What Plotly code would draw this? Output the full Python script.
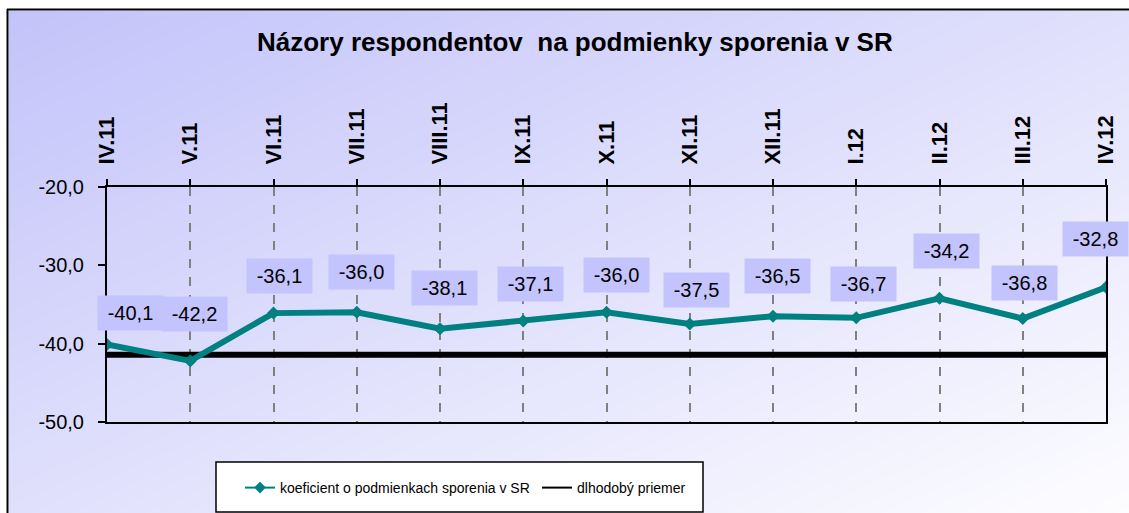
import plotly.graph_objects as go

# ---- data ----
categories = ["IV.11", "V.11", "VI.11", "VII.11", "VIII.11", "IX.11", "X.11",
              "XI.11", "XII.11", "I.12", "II.12", "III.12", "IV.12"]
koeficient = [-40.1, -42.2, -36.1, -36.0, -38.1, -37.1, -36.0,
              -37.5, -36.5, -36.7, -34.2, -36.8, -32.8]
dlhodoby_priemer = -41.4
y_tickvals = [-20, -30, -40, -50]
y_ticktext = ["-20,0", "-30,0", "-40,0", "-50,0"]
series_names = ["koeficient o podmienkach sporenia v SR", "dlhodobý priemer"]
title_text = "Názory respondentov\u00a0\u00a0na podmienky sporenia v SR"

# ---- style: label offsets (px) relative to each point ----
label_dx = [23, 4, 6, 5, 4, 7, 10, 7, 4, 7, 7, 2, -11]
label_dy = [31, 47, 37, 40, 41, 37, 37, 34, 40, 34, 47, 36, 48]

W, H = 1129, 513
FONT = "Liberation Sans, Arial, sans-serif"
TEAL = "#008080"

def px(x):
    return x / W

def py(y):
    return 1 - y / H

fig = go.Figure()

# background gradient (drawn on base subplot)
fig.add_trace(go.Heatmap(
    x=[0, 1], y=[0, 1], z=[[0.5, 1.0], [0.0, 0.5]],
    zsmooth="best", showscale=False, hoverinfo="skip",
    colorscale=[[0, "rgb(195,195,250)"], [1, "rgb(253,253,255)"]],
    xaxis="x", yaxis="y", showlegend=False,
))

avg_vals = [dlhodoby_priemer] * len(categories)
fig.add_trace(go.Scatter(
    x=categories, y=avg_vals, mode="lines", name=series_names[1],
    line=dict(color="black", width=6), xaxis="x2", yaxis="y2",
    showlegend=False, hoverinfo="skip",
))
fig.add_trace(go.Scatter(
    x=categories, y=koeficient, mode="lines+markers", name=series_names[0],
    line=dict(color=TEAL, width=6),
    marker=dict(symbol="diamond", size=10, color=TEAL),
    xaxis="x2", yaxis="y2", showlegend=False,
))
# legend-only entries (thin symbols like the original legend)
fig.add_trace(go.Scatter(
    x=[None], y=[None], mode="lines+markers", name=series_names[0],
    line=dict(color=TEAL, width=2),
    marker=dict(symbol="diamond", size=9, color=TEAL),
    xaxis="x2", yaxis="y2", legendrank=1,
))
fig.add_trace(go.Scatter(
    x=[None], y=[None], mode="lines", name=series_names[1],
    line=dict(color="black", width=2), xaxis="x2", yaxis="y2", legendrank=2,
))

annotations = []
for i, (c, v) in enumerate(zip(categories, koeficient)):
    annotations.append(dict(
        x=c, y=v, xref="x2", yref="y2",
        text=f"{v:.1f}".replace(".", ","),
        showarrow=False, xshift=label_dx[i], yshift=label_dy[i],
        width=63, height=32, bgcolor="#c3c3fd",
        font=dict(family=FONT, size=20, color="black"),
    ))
annotations.append(dict(
    x=px(575), y=py(42), xref="paper", yref="paper",
    text=f"<b>{title_text}</b>", showarrow=False,
    xanchor="center", yanchor="middle",
    font=dict(family=FONT, size=26, color="black"),
))

shapes = [
    # frame
    dict(type="line", xref="paper", yref="paper", x0=px(7.5), x1=px(7.5),
         y0=py(9), y1=0, line=dict(color="black", width=2)),
    dict(type="line", xref="paper", yref="paper", x0=px(7), x1=1,
         y0=py(9.5), y1=py(9.5), line=dict(color="black", width=2)),
    # legend box
    dict(type="rect", xref="paper", yref="paper", x0=px(216), x1=px(703),
         y0=py(462), y1=py(512), fillcolor="white",
         line=dict(color="black", width=1.5), layer="above"),
]

fig.update_layout(
    width=W, height=H, autosize=False,
    margin=dict(l=0, r=0, t=0, b=0, pad=0, autoexpand=False),
    paper_bgcolor="white", plot_bgcolor="rgba(0,0,0,0)",
    xaxis=dict(domain=[px(8.5), 1], range=[0, 1], visible=False, fixedrange=True),
    yaxis=dict(domain=[0, py(10.5)], range=[0, 1], visible=False, fixedrange=True),
    xaxis2=dict(
        domain=[px(107), px(1106)], anchor="y2", type="category",
        categoryorder="array", categoryarray=categories,
        range=[0, len(categories) - 1], side="top", automargin=False,
        tickangle=-90, ticks="outside", ticklen=6, tickwidth=2, tickcolor="black",
        ticklabelstandoff=10,
        tickfont=dict(family=FONT, size=22, color="black", weight="bold"),
        showgrid=True, griddash="dash", gridcolor="#808080", gridwidth=1.5,
        showline=True, linecolor="black", linewidth=2, mirror=True,
        zeroline=False,
    ),
    yaxis2=dict(
        domain=[py(422), py(187)], anchor="x2", range=[-50, -20],
        tickvals=y_tickvals, ticktext=y_ticktext, automargin=False,
        ticks="outside", ticklen=7, tickwidth=2, tickcolor="black",
        ticklabelstandoff=10,
        tickfont=dict(family=FONT, size=20, color="black"),
        showgrid=False, zeroline=False,
        showline=True, linecolor="black", linewidth=2, mirror=True,
    ),
    showlegend=True,
    legend=dict(
        orientation="h", x=px(240), y=py(488), xanchor="left", yanchor="middle",
        bgcolor="rgba(0,0,0,0)", borderwidth=0,
        font=dict(family=FONT, size=14, color="black"),
        entrywidth=252, entrywidthmode="pixels",
    ),
    annotations=annotations,
    shapes=shapes,
)

fig.write_html(
    "out.html",
    config={"displayModeBar": False},
    post_script="document.body.style.margin='0';document.body.style.overflow='hidden';",
)
